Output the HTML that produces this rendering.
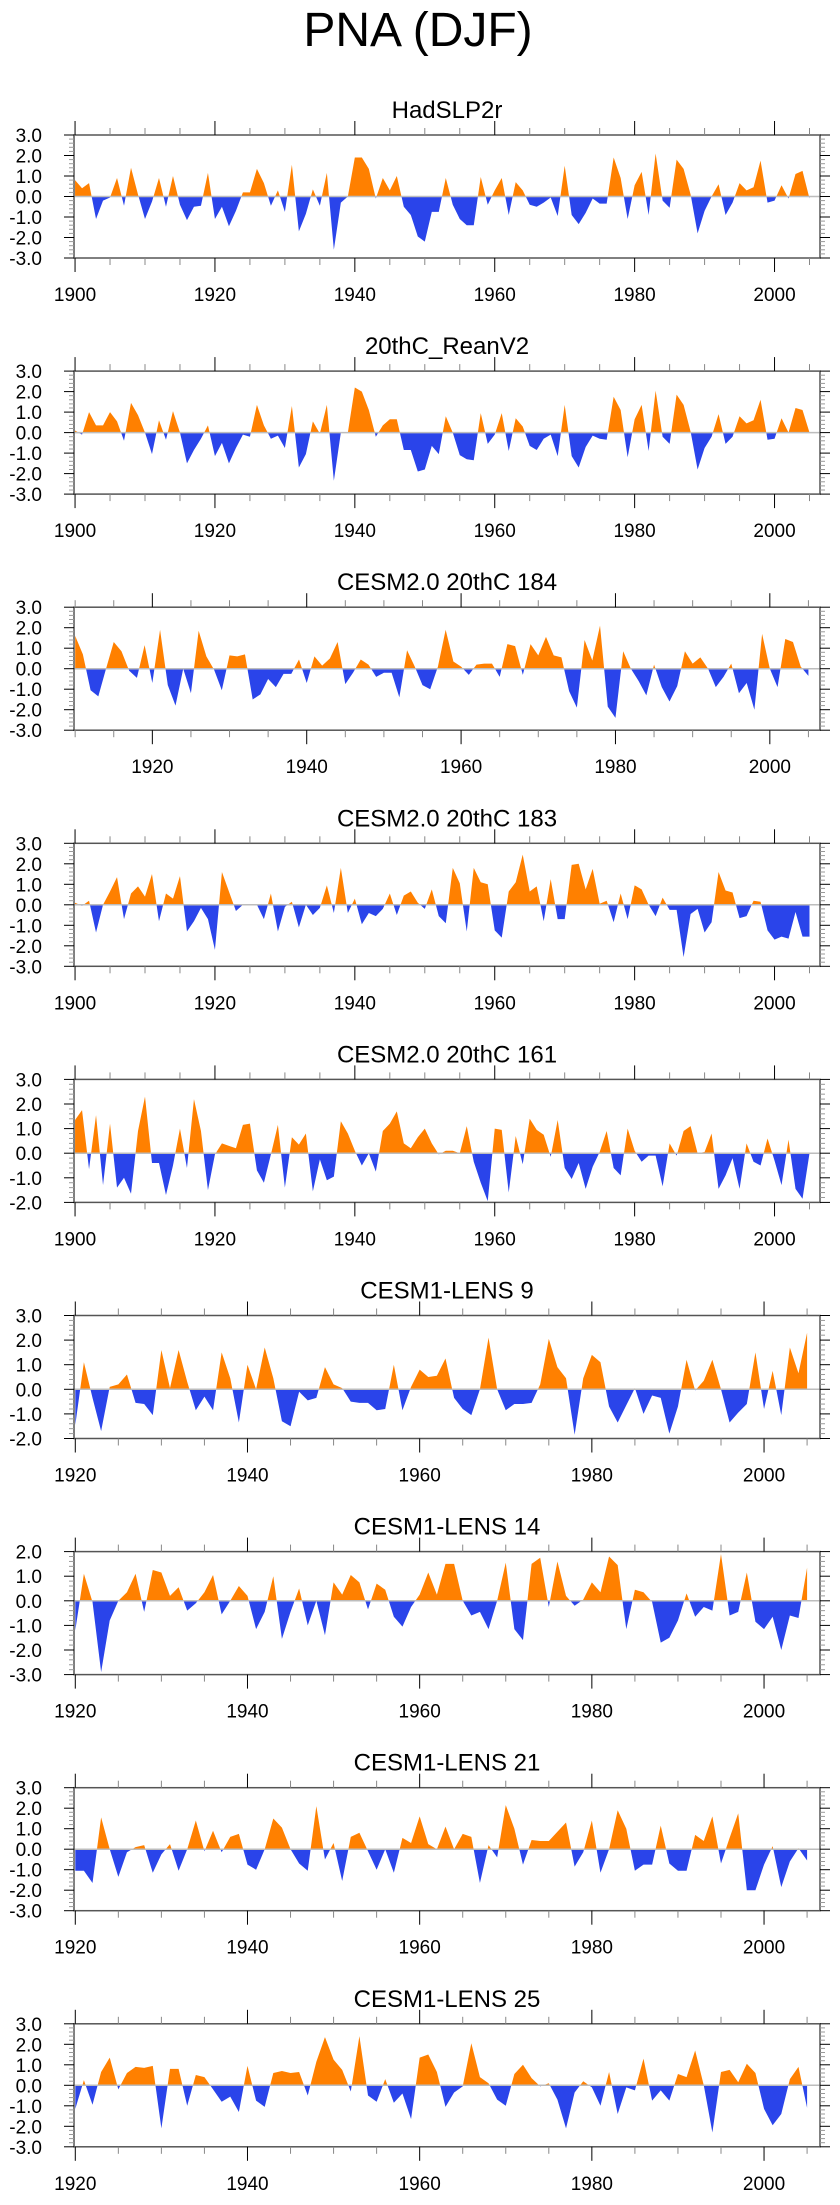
<!DOCTYPE html>
<html><head><meta charset="utf-8"><title>PNA (DJF)</title>
<style>
html,body{margin:0;padding:0;background:#fff;}
body{width:840px;height:2200px;overflow:hidden;font-family:"Liberation Sans",Arial,sans-serif;}
svg text{font-family:"Liberation Sans",Arial,sans-serif;fill:#000;}
</style></head>
<body>
<svg id="fig" width="840" height="2200" viewBox="0 0 840 2200" xmlns="http://www.w3.org/2000/svg">
<text x="418" y="46" font-size="48" text-anchor="middle">PNA (DJF)</text>
</svg>
<script>
const panelTitles = ["HadSLP2r","20thC_ReanV2","CESM2.0 20thC 184","CESM2.0 20thC 183","CESM2.0 20thC 161","CESM1-LENS 9","CESM1-LENS 14","CESM1-LENS 21","CESM1-LENS 25"];
const startYears = [1900,1900,1910,1900,1900,1920,1920,1920,1920];
const yMins = [-3,-3,-3,-3,-2,-2,-3,-3,-3];
const yMaxs = [3,3,3,3,3,3,2,3,3];
const xTickLabels = [1900,1920,1940,1960,1980,2000];

const hadslp2r = [0.8,0.4,0.65,-1.1,-0.2,-0.05,0.9,-0.45,1.4,0.1,-1.1,-0.25,0.9,-0.5,1.0,-0.4,-1.15,-0.5,-0.45,1.15,-1.1,-0.5,-1.45,-0.7,0.2,0.2,1.35,0.65,-0.45,0.3,-0.75,1.55,-1.7,-0.85,0.35,-0.45,1.15,-2.6,-0.3,0,1.9,1.9,1.35,-0.1,0.9,0.3,1.0,-0.5,-0.9,-1.95,-2.2,-0.75,-0.75,0.9,-0.4,-1.1,-1.4,-1.4,0.95,-0.4,0.3,0.9,-0.9,0.7,0.3,-0.4,-0.5,-0.3,-0.05,-0.95,1.5,-0.9,-1.35,-0.8,-0.1,-0.35,-0.35,1.9,0.9,-1.1,0.55,1.2,-0.9,2.1,-0.2,-0.55,1.8,1.35,0.1,-1.8,-0.7,0,0.6,-0.9,-0.3,0.65,0.3,0.45,1.75,-0.3,-0.2,0.55,-0.1,1.1,1.25,-0.1];
const reanV2 = [0.1,-0.1,1.0,0.35,0.35,1.0,0.55,-0.4,1.45,0.85,0,-1.05,0.6,-0.35,1.05,0,-1.5,-0.85,-0.3,0.35,-1.15,-0.5,-1.5,-0.75,-0.1,-0.2,1.35,0.35,-0.3,-0.15,-0.75,1.3,-1.7,-1.05,0.55,-0.05,1.35,-2.35,0,0,2.2,2.0,1.1,-0.2,0.35,0.65,0.65,-0.85,-0.85,-1.9,-1.8,-0.65,-1.05,0.8,0,-1.1,-1.3,-1.35,0.95,-0.55,-0.1,0.95,-0.9,0.7,0.3,-0.65,-0.85,-0.3,-0.1,-1.15,1.35,-1.15,-1.7,-0.7,-0.15,-0.3,-0.35,1.75,1.1,-1.2,0.65,1.35,-0.9,2.05,-0.2,-0.55,1.85,1.35,0.05,-1.8,-0.75,-0.2,0.9,-0.55,-0.2,0.8,0.45,0.6,1.6,-0.35,-0.3,0.7,0,1.2,1.1,0];
const cesm2_184 = [1.6,0.7,-1.05,-1.35,0,1.3,0.85,-0.1,-0.45,1.15,-0.7,1.9,-0.8,-1.8,0,-1.2,1.85,0.6,-0.05,-1.05,0.65,0.6,0.7,-1.5,-1.25,-0.5,-0.9,-0.25,-0.25,0.45,-0.7,0.6,0.15,0.5,1.3,-0.75,-0.2,0.45,0.2,-0.4,-0.2,-0.2,-1.4,0.9,0.1,-0.8,-1.0,0.1,1.9,0.35,0.1,-0.3,0.2,0.25,0.25,-0.4,1.2,1.1,-0.3,1.2,0.65,1.55,0.65,0.55,-1.1,-1.9,1.4,0.4,2.1,-1.85,-2.4,0.85,0,-0.6,-1.3,0.2,-0.9,-1.6,-0.85,0.85,0.25,0.55,0,-0.9,-0.4,0.25,-1.2,-0.7,-2.0,1.7,0,-0.9,1.45,1.3,0.1,-0.35];
const cesm2_183 = [0.1,-0.05,0.2,-1.35,0,0.65,1.35,-0.7,0.55,0.9,0.4,1.5,-0.8,0.55,0.3,1.4,-1.3,-0.8,-0.15,-0.7,-2.2,1.6,0.65,-0.3,0,0,0,-0.7,0.55,-1.3,-0.1,0.15,-1.1,0,-0.5,-0.15,0.95,-0.4,1.8,-0.4,0.3,-0.95,-0.4,-0.55,-0.2,0.55,-0.5,0.45,0.65,0.1,-0.2,0.75,-0.55,-0.9,1.8,1.05,-1.3,1.8,1.1,1.0,-1.25,-1.6,0.65,1.1,2.45,0.65,0.9,-0.8,1.25,-0.7,-0.7,1.95,2.0,0.75,1.75,0.05,0.2,-0.85,0.55,-0.7,0.95,0.75,0,-0.55,0.35,-0.25,-0.25,-2.55,-0.45,-0.2,-1.35,-0.85,1.6,0.7,0.6,-0.65,-0.55,0.2,0.15,-1.25,-1.7,-1.55,-1.65,-0.35,-1.55,-1.55];
const cesm2_161 = [1.35,1.75,-0.65,1.55,-1.3,1.2,-1.4,-1.0,-1.65,0.9,2.3,-0.4,-0.4,-1.7,-0.5,1.0,-0.6,2.2,0.9,-1.5,-0.05,0.4,0.3,0.2,1.15,1.2,-0.7,-1.2,-0.05,1.15,-1.4,0.65,0.35,0.8,-1.55,-0.25,-1.1,-0.95,1.3,0.8,0.1,-0.5,0,-0.75,0.9,1.2,1.7,0.4,0.2,0.65,1.0,0.4,-0.05,0.1,0.1,0,1.1,-0.35,-1.2,-1.95,1.0,0.95,-1.6,0.7,-0.45,1.4,0.95,0.75,-0.15,1.35,-0.6,-1.05,-0.4,-1.45,-0.55,0.05,0.9,-0.6,-0.9,1.0,0.1,-0.35,-0.1,-0.1,-1.35,0.4,-0.1,0.9,1.1,0,0.05,0.8,-1.45,-0.9,-0.2,-1.45,0.4,-0.35,-0.5,0.6,-0.3,-1.3,0.55,-1.45,-1.85,0];
const lens9 = [-1.45,1.1,-0.35,-1.7,0.1,0.2,0.6,-0.55,-0.6,-1.05,1.6,0.05,1.6,0.3,-0.85,-0.3,-0.85,1.5,0.45,-1.35,1.0,0,1.7,0.45,-1.3,-1.5,-0.1,-0.45,-0.35,0.9,0.2,0.05,-0.5,-0.55,-0.55,-0.85,-0.8,1.0,-0.85,0.1,0.8,0.5,0.55,1.25,-0.35,-0.8,-1.05,0,2.1,0,-0.85,-0.6,-0.6,-0.55,0.2,2.05,0.9,0.45,-1.85,0.45,1.4,1.1,-0.7,-1.35,-0.65,0.05,-1.0,-0.25,-0.35,-1.8,-0.7,1.2,-0.05,0.35,1.2,0,-1.35,-0.95,-0.6,1.5,-0.8,0.75,-1.05,1.7,0.65,2.3];
const lens14 = [-1.2,1.1,-0.05,-2.9,-0.8,0,0.35,1.1,-0.45,1.25,1.15,0.2,0.55,-0.4,-0.1,0.35,1.05,-0.55,0,0.6,0.2,-1.15,-0.45,1.0,-1.55,-0.45,0.5,-1.0,0,-1.4,0.75,0.25,1.05,0.75,-0.35,0.7,0.45,-0.65,-1.05,-0.25,0.25,1.15,0.25,1.5,1.5,0,-0.6,-0.45,-1.15,0,1.55,-1.15,-1.6,1.5,1.75,-0.25,1.6,0.2,-0.2,0.05,0.75,0.35,1.8,1.45,-1.15,0.45,0.35,-0.05,-1.7,-1.5,-0.8,0.3,-0.65,-0.25,-0.4,1.9,-0.6,-0.45,1.15,-0.85,-1.15,-0.65,-2.0,-0.6,-0.7,1.35];
const lens21 = [-1.05,-1.05,-1.65,1.55,0,-1.35,-0.15,0.1,0.2,-1.15,-0.25,0.25,-1.05,0,1.4,-0.1,0.9,-0.15,0.6,0.75,-0.75,-1.0,0,1.5,1.05,0,-0.7,-1.05,2.1,-0.5,0.3,-1.55,0.6,0.8,-0.1,-1.0,0,-1.15,0.55,0.3,1.6,0.25,0,1.1,0,0.75,0.6,-1.65,0.2,-0.4,2.15,1.0,-0.75,0.45,0.4,0.4,0.85,1.3,-0.85,-0.15,1.4,-1.15,0,1.9,1.0,-1.05,-0.75,-0.75,1.15,-0.7,-1.05,-1.05,0.7,0.4,1.6,-0.7,0.55,1.75,-2.0,-2.0,-0.75,0.15,-1.85,-0.6,0.05,-0.55];
const lens25 = [-1.15,0.25,-0.95,0.65,1.35,-0.2,0.6,0.9,0.85,0.95,-2.1,0.8,0.8,-1.0,0.5,0.4,-0.2,-0.8,-0.55,-1.3,0.95,-0.75,-1.05,0.6,0.7,0.6,0.65,-0.5,1.15,2.35,1.25,0.75,-0.3,2.4,-0.5,-0.8,0.3,-0.85,-0.4,-1.65,1.35,1.5,0.65,-1.05,-0.35,-0.05,2.05,0.4,0.1,-0.7,-1.0,0.55,1.0,0.35,-0.05,0.1,-0.7,-2.1,-0.35,0.2,-0.1,-1.0,0.65,-1.4,-0.1,-0.25,1.3,-0.75,-0.25,-0.75,0.55,0.4,1.7,0,-2.3,0.65,0.75,0.15,1.05,0.6,-1.15,-1.95,-1.4,0.3,0.9,-1.1];
const seriesList = [hadslp2r,reanV2,cesm2_184,cesm2_183,cesm2_161,lens9,lens14,lens21,lens25];

const NS = "http://www.w3.org/2000/svg";
const svg = document.getElementById("fig");
const BOX_L = 74, BOX_R = 820, BOX_H = 123, X_END = 2006.5;
function mk(tag, attrs, parent){const e=document.createElementNS(NS,tag);for(const k in attrs)e.setAttribute(k,attrs[k]);(parent||svg).appendChild(e);return e;}

seriesList.forEach(function(vals, p){
  const top = 135 + p*236.1, bot = top + BOX_H;
  const x0 = startYears[p] - 0.15;
  const xs = function(yr){return BOX_L + (yr - x0)/(X_END - x0)*(BOX_R - BOX_L);};
  const ys = function(v){return bot - (v - yMins[p])/(yMaxs[p]-yMins[p])*BOX_H;};
  const g = mk("g",{});
  
  

  const t = mk("text",{x:(BOX_L+BOX_R)/2, y:top-17, "font-size":24, "text-anchor":"middle"}, g);
  t.textContent = panelTitles[p];
  
  

  // clip paths
  const zeroY = ys(0);
  const defs = mk("defs",{}, g);
  const cpUp = mk("clipPath",{id:"up"+p}, defs);
  mk("rect",{x:BOX_L,y:top,width:BOX_R-BOX_L,height:zeroY-top}, cpUp);
  const cpDn = mk("clipPath",{id:"dn"+p}, defs);
  mk("rect",{x:BOX_L,y:zeroY,width:BOX_R-BOX_L,height:bot-zeroY}, cpDn);

  let d = "M" + xs(startYears[p]).toFixed(2) + "," + zeroY.toFixed(2);
  vals.forEach(function(v,i){ d += " L" + xs(startYears[p]+i).toFixed(2) + "," + ys(v).toFixed(2); });
  d += " L" + xs(startYears[p]+vals.length-1).toFixed(2) + "," + zeroY.toFixed(2) + " Z";
  const up = mk("path",{d:d, fill:"#ff8000", "clip-path":"url(#up"+p+")"}, g);
  
  
  const dn = mk("path",{d:d, fill:"#2a44ea", "clip-path":"url(#dn"+p+")"}, g);
  
  

  const zl = mk("line",{x1:BOX_L,x2:BOX_R,y1:zeroY,y2:zeroY,stroke:"#bdbdbd","stroke-width":1.5}, g);
  
  

  const box = mk("rect",{x:BOX_L,y:top,width:BOX_R-BOX_L,height:BOX_H,fill:"none",stroke:"#555","stroke-width":1.5}, g);
  
  

  // y ticks
  for (let k = Math.round(yMins[p]*5); k <= Math.round(yMaxs[p]*5); k++){
    const v = k/5, y = ys(v), major = (k%5===0);
    const len = major ? 10 : 5, col = major ? "#000" : "#999";
    mk("line",{x1:BOX_L-len,x2:BOX_L,y1:y,y2:y,stroke:col,"stroke-width":1}, g);
    mk("line",{x1:BOX_R,x2:BOX_R+len,y1:y,y2:y,stroke:col,"stroke-width":1}, g);
    if (major){
      const lb = mk("text",{x:42,y:y+7,"font-size":19,"text-anchor":"end"}, g);
      lb.textContent = v.toFixed(1);
      
      
    }
  }
  // x ticks
  for (let yr = Math.ceil(startYears[p]/5)*5; yr <= X_END; yr += 5){
    const x = xs(yr), major = (yr%20===0);
    const len = major ? 14 : 7, col = major ? "#000" : "#888";
    mk("line",{x1:x,x2:x,y1:top-len,y2:top,stroke:col,"stroke-width":1}, g);
    mk("line",{x1:x,x2:x,y1:bot,y2:bot+len,stroke:col,"stroke-width":1}, g);
  }
  xTickLabels.forEach(function(yr){
    if (yr < startYears[p]) return;
    const lb = mk("text",{x:xs(yr),y:bot+43,"font-size":19,"text-anchor":"middle"}, g);
    lb.textContent = yr;
    
    
  });
});
</script>
</body></html>
